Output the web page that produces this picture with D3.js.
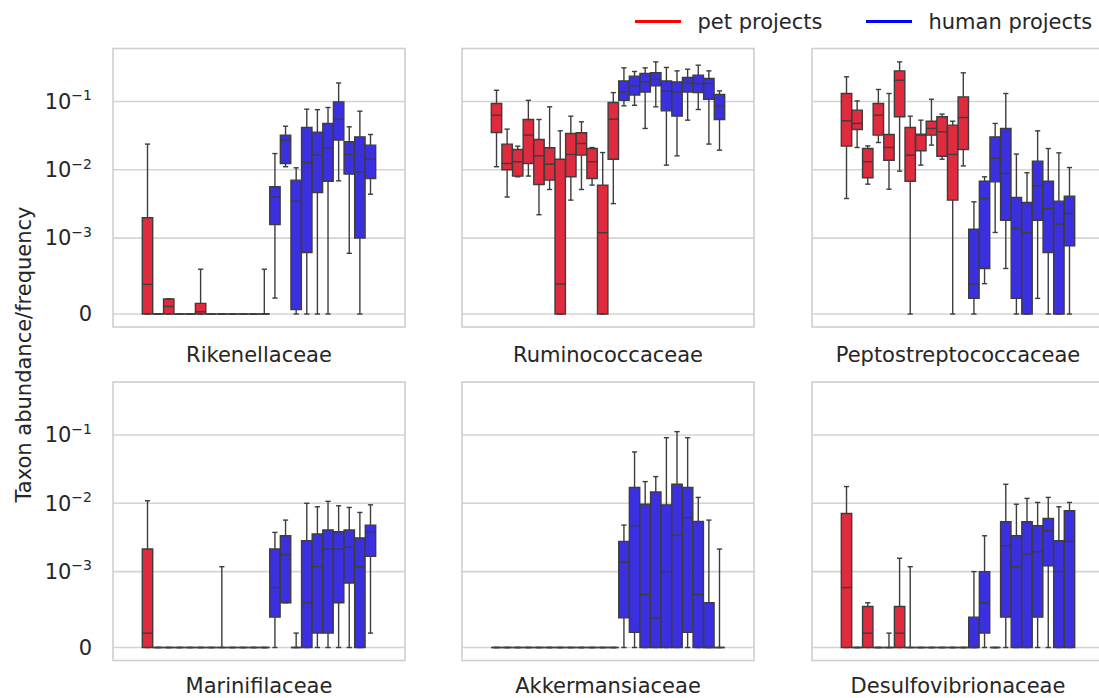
<!DOCTYPE html>
<html>
<head>
<meta charset="utf-8">
<script src="https://cdn.jsdelivr.net/npm/d3@7"></script>
<style>
  body { margin: 0; background: #ffffff; }
  svg text { font-family: "DejaVu Sans", sans-serif; fill: #262626; }
</style>
</head>
<body>
<svg id="chart" width="1099" height="698"></svg>
<script>
// ---- data -------------------------------------------------------------
const families = ["Rikenellaceae", "Ruminococcaceae", "Peptostreptococcaceae",
                  "Marinifilaceae", "Akkermansiaceae", "Desulfovibrionaceae"];

const projects = ["P01","P02","P03","P04","P05","P06","P07","P08","P09","P10","P11","P12",
                  "H01","H02","H03","H04","H05","H06","H07","H08","H09","H10"];
const projectKind = ["pet","pet","pet","pet","pet","pet","pet","pet","pet","pet","pet","pet",
                     "human","human","human","human","human","human","human","human","human","human"];

const legendLabels = ["pet projects", "human projects"];
const yTicks = [0, 1e-3, 1e-2, 1e-1];
const yTickExponents = [null, -3, -2, -1];

// box statistics per project: [lower whisker, Q1, median, Q3, upper whisker]
const rikenellaceae = [
  [0, 0, 0.00039, 0.00199, 0.0238],
  [0, 0, 0, 0, 0],
  [0, 0, 0.0001, 0.0002, 0.0002],
  [0, 0, 0, 0, 0],
  [0, 0, 0, 0, 0],
  [0, 0, 0.00003, 0.00014, 0.00059],
  [0, 0, 0, 0, 0],
  [0, 0, 0, 0, 0],
  [0, 0, 0, 0, 0],
  [0, 0, 0, 0, 0],
  [0, 0, 0, 0, 0],
  [0, 0, 0, 0, 0.00059],
  [0.00021, 0.00158, 0.0040, 0.00564, 0.0173],
  [0.0111, 0.0124, 0.0272, 0.0322, 0.0435],
  [0, 0.00006, 0.00348, 0.00706, 0.0107],
  [0, 0.00081, 0.0127, 0.0416, 0.0772],
  [0, 0.00466, 0.0164, 0.0356, 0.076],
  [0, 0.0068, 0.021, 0.0477, 0.0817],
  [0.0069, 0.0272, 0.0551, 0.0989, 0.187],
  [0.0008, 0.00864, 0.0168, 0.0257, 0.0426],
  [0, 0.001, 0.00935, 0.0304, 0.0722],
  [0.0044, 0.00747, 0.0143, 0.023, 0.0329]
];

const ruminococcaceae = [
  [0.0111, 0.0352, 0.063, 0.0935, 0.146],
  [0.0040, 0.010, 0.0124, 0.0238, 0.0394],
  [0.0079, 0.00808, 0.0131, 0.0198, 0.0222],
  [0.0081, 0.0124, 0.0322, 0.0545, 0.104],
  [0.0022, 0.0061, 0.016, 0.0278, 0.0545],
  [0.00515, 0.00706, 0.0121, 0.021, 0.0836],
  [0, 0, 0.000395, 0.0143, 0.0372],
  [0.0036, 0.0079, 0.0168, 0.034, 0.061],
  [0.00515, 0.0164, 0.0243, 0.0348, 0.0504],
  [0.00597, 0.00747, 0.0131, 0.0205, 0.0212],
  [0, 0, 0.0012, 0.00597, 0.0179],
  [0.0032, 0.0143, 0.0551, 0.0967, 0.135],
  [0.0864, 0.104, 0.138, 0.200, 0.311],
  [0.088, 0.124, 0.170, 0.235, 0.275],
  [0.0403, 0.138, 0.194, 0.257, 0.311],
  [0.0836, 0.170, 0.210, 0.263, 0.380],
  [0.0117, 0.073, 0.142, 0.200, 0.315],
  [0.016, 0.061, 0.138, 0.194, 0.281],
  [0.0533, 0.138, 0.187, 0.225, 0.297],
  [0.0764, 0.135, 0.183, 0.243, 0.340],
  [0.0238, 0.108, 0.183, 0.217, 0.281],
  [0.0194, 0.0545, 0.0864, 0.127, 0.143]
];

const peptostreptococcaceae = [
  [0.0038, 0.0222, 0.0521, 0.131, 0.230],
  [0.0212, 0.0389, 0.0477, 0.0747, 0.102],
  [0.00617, 0.00764, 0.0131, 0.0205, 0.0224],
  [0.0251, 0.0322, 0.063, 0.0935, 0.150],
  [0.0052, 0.0138, 0.0212, 0.0329, 0.131],
  [0.00956, 0.0597, 0.205, 0.281, 0.380],
  [0, 0.0068, 0.0164, 0.0416, 0.061],
  [0.0117, 0.019, 0.0322, 0.0333, 0.0533],
  [0.023, 0.0322, 0.0403, 0.0515, 0.108],
  [0.0143, 0.0158, 0.036, 0.0597, 0.0653],
  [0, 0.0036, 0.0168, 0.0451, 0.0515],
  [0.0114, 0.0198, 0.0583, 0.117, 0.263],
  [0, 0.000206, 0.000395, 0.00135, 0.0034],
  [0.0004, 0.0006, 0.0038, 0.0068, 0.0079],
  [0.00121, 0.00667, 0.0147, 0.0304, 0.0477],
  [0.0006, 0.00183, 0.00884, 0.0403, 0.131],
  [0, 0.000206, 0.00138, 0.00394, 0.017],
  [0, 0, 0.0012, 0.00333, 0.00904],
  [0.000206, 0.00183, 0.00583, 0.0134, 0.0372],
  [0, 0.00081, 0.00272, 0.0068, 0.0205],
  [0, 0, 0.0016, 0.00348, 0.0177],
  [0, 0.0009, 0.0023, 0.00412, 0.0108]
];

const marinifilaceae = [
  [0, 0, 0.00019, 0.00214, 0.0109],
  [0, 0, 0, 0, 0],
  [0, 0, 0, 0, 0],
  [0, 0, 0, 0, 0],
  [0, 0, 0, 0, 0],
  [0, 0, 0, 0, 0],
  [0, 0, 0, 0, 0],
  [0, 0, 0, 0, 0.00118],
  [0, 0, 0, 0, 0],
  [0, 0, 0, 0, 0],
  [0, 0, 0, 0, 0],
  [0, 0, 0, 0, 0],
  [0, 0.0004, 0.00079, 0.00214, 0.00375],
  [0.00059, 0.00059, 0.00177, 0.00335, 0.00568],
  [0, 0, 0, 0, 0.00019],
  [0, 0, 0.00059, 0.00284, 0.010],
  [0, 0.00019, 0.00118, 0.00355, 0.0089],
  [0, 0.00019, 0.00214, 0.00406, 0.0107],
  [0, 0.00059, 0.00214, 0.00383, 0.0092],
  [0, 0.00085, 0.00227, 0.00406, 0.0087],
  [0, 0, 0.00118, 0.0031, 0.00735],
  [0.00019, 0.00167, 0.00383, 0.0048, 0.0095]
];

const akkermansiaceae = [
  [0, 0, 0, 0, 0],
  [0, 0, 0, 0, 0],
  [0, 0, 0, 0, 0],
  [0, 0, 0, 0, 0],
  [0, 0, 0, 0, 0],
  [0, 0, 0, 0, 0],
  [0, 0, 0, 0, 0],
  [0, 0, 0, 0, 0],
  [0, 0, 0, 0, 0],
  [0, 0, 0, 0, 0],
  [0, 0, 0, 0, 0],
  [0, 0, 0, 0, 0],
  [0, 0.00039, 0.00137, 0.00277, 0.0048],
  [0, 0.0002, 0.0047, 0.017, 0.0565],
  [0, 0, 0.0007, 0.0097, 0.0208],
  [0, 0, 0.00039, 0.0147, 0.0246],
  [0, 0, 0.001, 0.0095, 0.0914],
  [0, 0, 0.00343, 0.019, 0.112],
  [0, 0.0002, 0.0062, 0.017, 0.0914],
  [0, 0, 0.0007, 0.00543, 0.0122],
  [0, 0, 0, 0.00059, 0.00568],
  [0, 0, 0, 0, 0.00214]
];

const desulfovibrionaceae = [
  [0, 0, 0.00079, 0.0071, 0.0176],
  [0, 0, 0, 0, 0],
  [0, 0, 0.00019, 0.00054, 0.00059],
  [0, 0, 0, 0, 0],
  [0, 0, 0, 0, 0.00019],
  [0, 0, 0.00019, 0.00054, 0.00157],
  [0, 0, 0, 0, 0.00118],
  [0, 0, 0, 0, 0],
  [0, 0, 0, 0, 0],
  [0, 0, 0, 0, 0],
  [0, 0, 0, 0, 0],
  [0, 0, 0, 0, 0],
  [0, 0, 0, 0.0004, 0.001],
  [0, 0.00019, 0.00059, 0.001, 0.00335],
  [0, 0, 0, 0, 0],
  [0, 0.0004, 0.0024, 0.00537, 0.019],
  [0, 0, 0.00118, 0.00335, 0.0097],
  [0, 0, 0.00181, 0.00537, 0.0118],
  [0, 0.0004, 0.00196, 0.0047, 0.0103],
  [0, 0.00122, 0.00397, 0.006, 0.0122],
  [0, 0, 0.001, 0.00284, 0.0089],
  [0, 0, 0.00277, 0.00777, 0.0103]
];

const familyStats = [rikenellaceae, ruminococcaceae, peptostreptococcaceae,
                     marinifilaceae, akkermansiaceae, desulfovibrionaceae];

// ---- styling ----------------------------------------------------------
const boxFill = { pet: "#e02a3e", human: "#3b30e0" };
const legendLine = { pet: "#ff0000", human: "#0000ff" };
const edge = "#3d3d3d";
const gridColor = "#d4d4d4";
const fontSize = 21;

// ---- layout -----------------------------------------------------------
const panelW = 292, panelH = 278.5;
const colX = [113, 462, 812];
const rowY = [48.5, 382];
const labelGap = [34.5, 32];   // baseline offset of the family name under each row

// symmetric log transform (linear below 1e-3, log10 above, linscale 1)
const linThresh = 1e-3;
const linScale = 1 / (1 - 1 / 10);
const symlog = v => (v <= linThresh ? (v / linThresh) * linScale
                                      : linScale + Math.log10(v / linThresh));
const yDomain = [-0.19, 3.887];

const svg = d3.select("#chart");

families.forEach((fam, k) => {
  const col = k % 3, row = Math.floor(k / 3);
  const x0 = colX[col], y0 = rowY[row];
  const stats = familyStats[k];

  const x = d3.scaleBand()
    .domain(projects)
    .range([x0 + 0.1 * panelW, x0 + 0.9 * panelW])
    .paddingInner(0.02)
    .paddingOuter(0.01);
  const yLin = d3.scaleLinear().domain(yDomain).range([y0 + panelH, y0]);
  const y = v => yLin(symlog(v));

  const g = svg.append("g").attr("class", "panel");

  // horizontal grid
  g.selectAll("line.grid").data(yTicks).join("line")
    .attr("class", "grid")
    .attr("x1", x0).attr("x2", x0 + panelW)
    .attr("y1", d => y(d)).attr("y2", d => y(d))
    .attr("stroke", gridColor).attr("stroke-width", 1.6);

  // frame
  g.append("rect")
    .attr("x", x0).attr("y", y0).attr("width", panelW).attr("height", panelH)
    .attr("fill", "none").attr("stroke", "#cfcfcf").attr("stroke-width", 1.6);

  const bw = x.bandwidth();
  const capW = bw * 0.5;

  const boxes = g.selectAll("g.box").data(stats).join("g").attr("class", "box");
  boxes.each(function (s, i) {
    const b = d3.select(this);
    const cx = x(projects[i]) + bw / 2;
    const [lo, q1, med, q3, hi] = s;
    // box body (a closed path so that a zero-height box still strokes)
    b.append("path")
      .attr("d", `M${cx - bw / 2},${y(q1)}L${cx + bw / 2},${y(q1)}L${cx + bw / 2},${y(q3)}L${cx - bw / 2},${y(q3)}Z`)
      .attr("fill", boxFill[projectKind[i]])
      .attr("stroke", edge).attr("stroke-width", 1.4);
    // whiskers
    [[lo, q1], [q3, hi]].forEach(([a, c]) => {
      b.append("line")
        .attr("x1", cx).attr("x2", cx).attr("y1", y(a)).attr("y2", y(c))
        .attr("stroke", edge).attr("stroke-width", 1.4);
    });
    // caps
    [lo, hi].forEach(v => {
      b.append("line")
        .attr("x1", cx - capW / 2).attr("x2", cx + capW / 2)
        .attr("y1", y(v)).attr("y2", y(v))
        .attr("stroke", edge).attr("stroke-width", 1.4);
    });
    // median
    b.append("line")
      .attr("x1", cx - bw / 2).attr("x2", cx + bw / 2)
      .attr("y1", y(med)).attr("y2", y(med))
      .attr("stroke", edge).attr("stroke-width", 1.4);
  });

  // category label below the panel
  g.append("text")
    .attr("x", x0 + panelW / 2).attr("y", y0 + panelH + labelGap[row])
    .attr("text-anchor", "middle").attr("font-size", fontSize)
    .text(fam);

  // y axis on the first column only
  if (col === 0) {
    const axis = d3.axisLeft(yLin)
      .tickValues(yTicks.map(symlog))
      .tickSize(0).tickPadding(21)
      .tickFormat(() => "");
    const ag = svg.append("g").attr("transform", `translate(${x0},0)`).call(axis);
    ag.select(".domain").remove();
    ag.attr("font-family", null).attr("font-size", null);
    ag.selectAll(".tick text").each(function (_, j) {
      const t = d3.select(this).attr("font-size", fontSize);
      const e = yTickExponents[j];
      if (e === null) {
        t.text("0");
      } else {
        t.append("tspan").text("10");
        t.append("tspan").attr("dy", -8.5).attr("font-size", 14).text("\u2212" + Math.abs(e));
      }
    });
  }
});

// y axis title
svg.append("text")
  .attr("transform", `translate(31,${(rowY[0] + rowY[1] + panelH) / 2}) rotate(-90)`)
  .attr("text-anchor", "middle").attr("font-size", fontSize)
  .text("Taxon abundance/frequency");

// legend
const legendX = [635, 866];
const legend = svg.append("g");
["pet", "human"].forEach((kind, i) => {
  legend.append("line")
    .attr("x1", legendX[i]).attr("x2", legendX[i] + 46)
    .attr("y1", 21.5).attr("y2", 21.5)
    .attr("stroke", legendLine[kind]).attr("stroke-width", 3);
  legend.append("text")
    .attr("x", legendX[i] + 62.5).attr("y", 28.5)
    .attr("font-size", fontSize)
    .text(legendLabels[i]);
});
</script>
</body>
</html>
